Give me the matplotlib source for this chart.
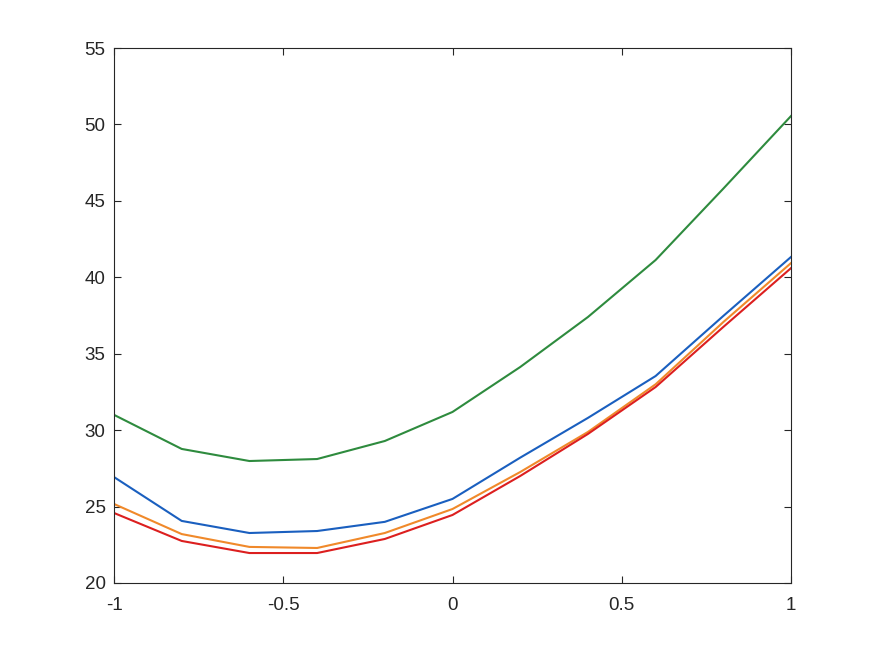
import matplotlib.pyplot as plt

x = [-1, -0.8, -0.6, -0.4, -0.2, 0, 0.2, 0.4, 0.6, 0.8, 1]
blue = [26.93, 24.06, 23.27, 23.40, 24.00, 25.50, 28.20, 30.80, 33.54, 37.47, 41.33]
orange = [25.17, 23.20, 22.36, 22.29, 23.27, 24.84, 27.26, 29.88, 33.00, 37.07, 40.93]
red = [24.58, 22.75, 21.96, 21.96, 22.88, 24.45, 27.00, 29.75, 32.82, 36.75, 40.60]
green = [31.00, 28.77, 27.98, 28.11, 29.29, 31.19, 34.13, 37.40, 41.13, 45.80, 50.55]

xticks = [-1, -0.5, 0, 0.5, 1]
xlabels = ['-1', '-0.5', '0', '0.5', '1']
yticks = [20, 25, 30, 35, 40, 45, 50, 55]

plt.rcParams['font.family'] = ['Liberation Sans', 'DejaVu Sans']

fig = plt.figure(figsize=(8.75, 6.56), dpi=100)
ax = fig.add_axes([0.1303, 0.1113, 0.7737, 0.8155])

# 线条
ax.plot(x, blue, color='#1a5fbf', lw=1.5)
ax.plot(x, orange, color='#f0892a', lw=1.5)
ax.plot(x, red, color='#dc1f1f', lw=1.5)
ax.plot(x, green, color='#2e8b3e', lw=1.5)

ax.set_xlim(-1, 1)
ax.set_ylim(20, 55)
ax.set_xticks(xticks)
ax.set_xticklabels(xlabels)
ax.set_yticks(yticks)

ax.tick_params(direction='in', length=5, width=0.8, labelsize=13.5,
               colors='#262626', top=True, right=True, pad=6)
ax.tick_params(axis='x', pad=10)
for s in ax.spines.values():
    s.set_color('#262626')
    s.set_linewidth(0.8)

fig.savefig('out.png', dpi=100)
